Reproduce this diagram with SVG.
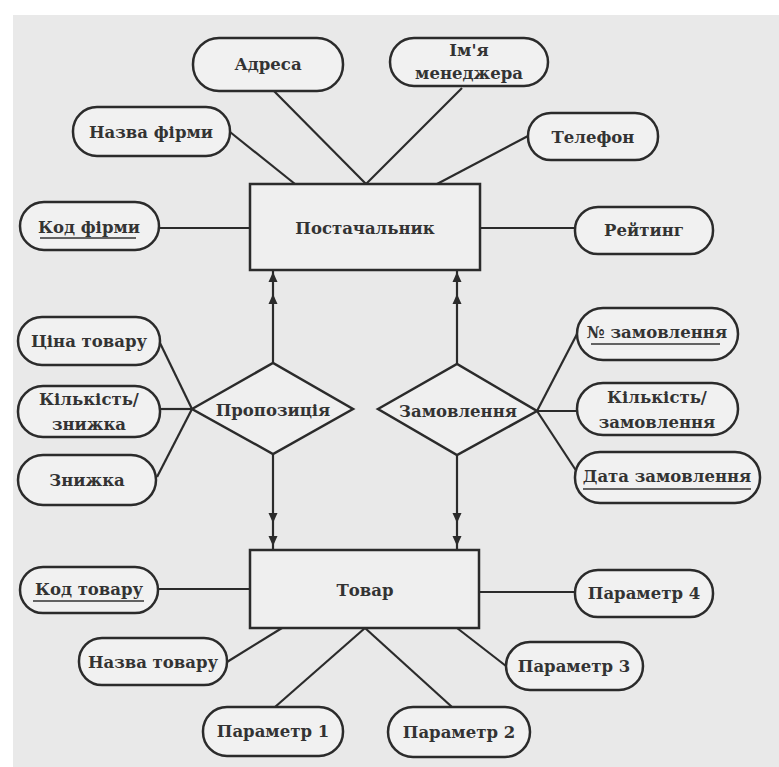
<svg xmlns="http://www.w3.org/2000/svg" width="779" height="767" viewBox="0 0 779 767">
<style>
.pill{fill:#f1f1f1;stroke:#2b2b2b;stroke-width:2.5}
.box{fill:#efefef;stroke:#2b2b2b;stroke-width:2.5}
.dia{fill:#efefef;stroke:#2b2b2b;stroke-width:2.5}
.t{font-family:"DejaVu Serif","Liberation Serif",serif;font-size:16.5px;font-weight:bold;fill:#333;text-anchor:middle;dominant-baseline:central}
.ul{stroke:#333;stroke-width:1.5}
#conn line{stroke:#2b2b2b;stroke-width:2.2;fill:none}
.ah{fill:#2b2b2b}
</style>
<defs>
<path id="up" d="M0,0 L-4.5,10 L4.5,10 Z"/>
</defs>
<rect width="779" height="767" fill="#ffffff"/>
<rect x="13" y="15" width="766" height="752" fill="#e9e9e9"/>
<g id="conn">
<line x1="270" y1="87" x2="366" y2="184"/>
<line x1="462" y1="88" x2="366" y2="184"/>
<line x1="230" y1="132" x2="295" y2="184"/>
<line x1="528" y1="136" x2="437" y2="184"/>
<line x1="159" y1="228" x2="250" y2="228"/>
<line x1="480" y1="228" x2="575" y2="228"/>
<line x1="273" y1="270" x2="273" y2="363"/>
<line x1="457" y1="270" x2="457" y2="364"/>
<line x1="160" y1="343" x2="192" y2="409"/>
<line x1="160" y1="409" x2="192" y2="409"/>
<line x1="157" y1="477" x2="192" y2="409"/>
<line x1="537" y1="411" x2="577" y2="334"/>
<line x1="537" y1="411" x2="577" y2="411"/>
<line x1="537" y1="411" x2="577" y2="472"/>
<line x1="273" y1="454" x2="273" y2="550"/>
<line x1="457" y1="455" x2="457" y2="550"/>
<line x1="158" y1="589" x2="250" y2="589"/>
<line x1="479" y1="592" x2="575" y2="592"/>
<line x1="227" y1="662" x2="282" y2="628"/>
<line x1="275" y1="707" x2="365" y2="628"/>
<line x1="365" y1="628" x2="452" y2="707"/>
<line x1="457" y1="628" x2="506" y2="666"/>
<use href="#up" class="ah" x="273" y="272"/>
<use href="#up" class="ah" x="273" y="294"/>
<use href="#up" class="ah" x="457" y="272"/>
<use href="#up" class="ah" x="457" y="294"/>
<use href="#up" class="ah" transform="translate(273,523) scale(1,-1)"/>
<use href="#up" class="ah" transform="translate(273,546) scale(1,-1)"/>
<use href="#up" class="ah" transform="translate(457,523) scale(1,-1)"/>
<use href="#up" class="ah" transform="translate(457,546) scale(1,-1)"/>
</g>
<g id="adresa"><rect class="pill" x="193" y="38" width="150" height="53" rx="26"/><text class="t" x="268" y="64">Адреса</text></g>
<g id="imya"><rect class="pill" x="390" y="38" width="158" height="48" rx="24"/><text class="t" x="469" y="50">Ім'я</text><text class="t" x="469" y="73">менеджера</text></g>
<g id="nazva-firmy"><rect class="pill" x="73" y="107" width="157" height="49" rx="24"/><text class="t" x="151" y="132">Назва фірми</text></g>
<g id="telefon"><rect class="pill" x="528" y="113" width="130" height="47" rx="23"/><text class="t" x="593" y="137">Телефон</text></g>
<g id="kod-firmy"><rect class="pill" x="20" y="202" width="139" height="48" rx="24"/><text class="t" x="89" y="227">Код фірми</text><line class="ul" x1="40" y1="238" x2="136" y2="238"/></g>
<g id="postachalnyk"><rect class="box" x="250" y="184" width="230" height="86"/><text class="t" x="365" y="228">Постачальник</text></g>
<g id="reitynh"><rect class="pill" x="575" y="207" width="138" height="47" rx="23"/><text class="t" x="644" y="230">Рейтинг</text></g>
<g id="tsina"><rect class="pill" x="18" y="317" width="142" height="48" rx="24"/><text class="t" x="89" y="341">Ціна товару</text></g>
<g id="kilkist-znyzhka"><rect class="pill" x="18" y="386" width="142" height="51" rx="25"/><text class="t" x="89" y="399">Кількість/</text><text class="t" x="89" y="424">знижка</text></g>
<g id="znyzhka"><rect class="pill" x="18" y="455" width="138" height="50" rx="25"/><text class="t" x="87" y="480">Знижка</text></g>
<g id="propozytsiya"><polygon class="dia" points="192,409 273,363 353,409 273,454"/><text class="t" x="273" y="410">Пропозиція</text></g>
<g id="zamovlennya"><polygon class="dia" points="378,409 457,364 537,411 457,455"/><text class="t" x="458" y="411">Замовлення</text></g>
<g id="nomer"><rect class="pill" x="577" y="308" width="161" height="52" rx="26"/><text class="t" x="657" y="332">№ замовлення</text><line class="ul" x1="591" y1="344" x2="720" y2="344"/></g>
<g id="kilkist-zamovlennya"><rect class="pill" x="577" y="383" width="161" height="52" rx="26"/><text class="t" x="657" y="397">Кількість/</text><text class="t" x="657" y="422">замовлення</text></g>
<g id="data"><rect class="pill" x="575" y="452" width="185" height="51" rx="25"/><text class="t" x="667" y="476">Дата замовлення</text><line class="ul" x1="583" y1="489" x2="751" y2="489"/></g>
<g id="kod-tovaru"><rect class="pill" x="20" y="567" width="138" height="46" rx="23"/><text class="t" x="89" y="589">Код товару</text><line class="ul" x1="33" y1="601" x2="144" y2="601"/></g>
<g id="tovar"><rect class="box" x="250" y="550" width="229" height="78"/><text class="t" x="365" y="590">Товар</text></g>
<g id="parametr4"><rect class="pill" x="575" y="570" width="138" height="47" rx="23"/><text class="t" x="644" y="593">Параметр 4</text></g>
<g id="nazva-tovaru"><rect class="pill" x="79" y="638" width="148" height="47" rx="23"/><text class="t" x="153" y="662">Назва товару</text></g>
<g id="parametr3"><rect class="pill" x="506" y="642" width="137" height="48" rx="24"/><text class="t" x="574" y="666">Параметр 3</text></g>
<g id="parametr1"><rect class="pill" x="203" y="707" width="140" height="49" rx="24"/><text class="t" x="273" y="731">Параметр 1</text></g>
<g id="parametr2"><rect class="pill" x="388" y="707" width="142" height="50" rx="25"/><text class="t" x="459" y="732">Параметр 2</text></g>
</svg>
